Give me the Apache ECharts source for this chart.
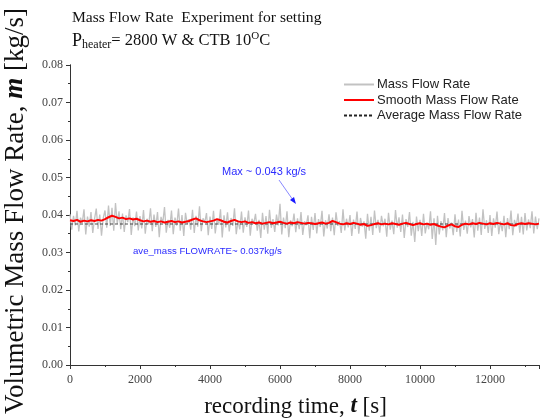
<!DOCTYPE html>
<html>
<head>
<meta charset="utf-8">
<script src="https://cdn.jsdelivr.net/npm/echarts@6/dist/echarts.min.js"></script>
<style>html,body{margin:0;padding:0;background:#fff}#c{width:540px;height:420px}</style>
</head>
<body>
<div id="c"></div>
<script>
// raw mass flow rate [kg/s], sampled every 50 s from t = 0
var rawStep = 50;
var rawValues = [
0.0402,0.0361,0.0398,0.0372,0.0411,0.0356,0.0393,0.0379,0.0415,0.0348,
0.0396,0.0369,0.0408,0.0352,0.0389,0.0417,0.0363,0.0401,0.0345,0.0392,
0.0412,0.0366,0.0425,0.0371,0.0419,0.0358,0.0432,0.0377,0.0410,0.0362,
0.0404,0.0355,0.0399,0.0381,0.0416,0.0347,0.0394,0.0370,0.0409,0.0359,
0.0397,0.0364,0.0413,0.0350,0.0390,0.0375,0.0418,0.0357,0.0401,0.0368,
0.0408,0.0341,0.0395,0.0379,0.0421,0.0353,0.0387,0.0366,0.0412,0.0349,
0.0393,0.0372,0.0417,0.0358,0.0400,0.0344,0.0406,0.0376,0.0389,0.0361,
0.0414,0.0352,0.0398,0.0369,0.0423,0.0357,0.0391,0.0380,0.0405,0.0346,
0.0396,0.0363,0.0411,0.0351,0.0388,0.0374,0.0415,0.0340,0.0399,0.0367,
0.0407,0.0356,0.0392,0.0371,0.0418,0.0349,0.0385,0.0362,0.0409,0.0353,
0.0394,0.0368,0.0412,0.0345,0.0390,0.0377,0.0403,0.0358,0.0387,0.0339,
0.0406,0.0361,0.0397,0.0350,0.0414,0.0366,0.0389,0.0355,0.0401,0.0372,
0.0430,0.0348,0.0393,0.0365,0.0410,0.0341,0.0386,0.0370,0.0404,0.0354,
0.0391,0.0362,0.0408,0.0347,0.0383,0.0373,0.0399,0.0338,0.0395,0.0360,
0.0405,0.0351,0.0389,0.0368,0.0411,0.0343,0.0386,0.0364,0.0402,0.0357,
0.0393,0.0346,0.0407,0.0371,0.0384,0.0352,0.0415,0.0359,0.0390,0.0367,
0.0400,0.0344,0.0388,0.0363,0.0409,0.0350,0.0392,0.0369,0.0383,0.0337,
0.0403,0.0358,0.0395,0.0347,0.0412,0.0365,0.0387,0.0353,0.0398,0.0370,
0.0390,0.0342,0.0406,0.0361,0.0385,0.0349,0.0413,0.0366,0.0394,0.0355,
0.0401,0.0339,0.0389,0.0368,0.0408,0.0345,0.0382,0.0328,0.0396,0.0357,
0.0387,0.0344,0.0403,0.0351,0.0379,0.0362,0.0410,0.0336,0.0391,0.0320,
0.0398,0.0348,0.0384,0.0359,0.0405,0.0341,0.0392,0.0364,0.0380,0.0346,
0.0402,0.0355,0.0388,0.0343,0.0411,0.0360,0.0385,0.0350,0.0397,0.0367,
0.0389,0.0340,0.0406,0.0358,0.0393,0.0347,0.0415,0.0363,0.0386,0.0352,
0.0400,0.0344,0.0391,0.0366,0.0409,0.0349,0.0383,0.0357,0.0398,0.0341,
0.0392,0.0362,0.0412,0.0346,0.0387,0.0369,0.0404,0.0353,0.0395,0.0348,
0.0405,0.0359,0.0388,0.0365,0.0410,0.0351,0.0396,0.0362,0.0391
];
// smoothed mass flow rate [kg/s], every 100 s from t = 0
var smoothStep = 100;
var smoothValues = [
0.0386,0.0384,0.0387,0.0382,0.0385,0.0383,0.0386,0.0384,0.0387,0.0385,
0.0389,0.0394,0.0398,0.0395,0.0391,0.0393,0.0389,0.0391,0.0388,0.0390,
0.0386,0.0383,0.0385,0.0382,0.0384,0.0381,0.0383,0.0380,0.0382,0.0384,
0.0381,0.0383,0.0380,0.0382,0.0384,0.0388,0.0391,0.0386,0.0383,0.0381,
0.0383,0.0385,0.0389,0.0386,0.0382,0.0380,0.0384,0.0387,0.0383,0.0381,
0.0383,0.0379,0.0381,0.0378,0.0380,0.0377,0.0379,0.0381,0.0378,0.0380,
0.0382,0.0379,0.0377,0.0380,0.0378,0.0381,0.0379,0.0377,0.0379,0.0378,
0.0376,0.0378,0.0380,0.0377,0.0379,0.0384,0.0381,0.0377,0.0375,0.0378,
0.0376,0.0379,0.0377,0.0374,0.0376,0.0371,0.0373,0.0376,0.0378,0.0375,
0.0377,0.0375,0.0378,0.0376,0.0374,0.0377,0.0379,0.0376,0.0373,0.0376,
0.0378,0.0375,0.0377,0.0374,0.0376,0.0372,0.0369,0.0367,0.0372,0.0375,
0.0370,0.0368,0.0374,0.0377,0.0375,0.0378,0.0376,0.0379,0.0377,0.0375,
0.0378,0.0376,0.0379,0.0377,0.0375,0.0378,0.0373,0.0372,0.0376,0.0378,
0.0376,0.0378,0.0377,0.0375,0.0377
];
var avgTimes = [0, 13400];
var avgValues = [0.0376, 0.0376];
var seriesNames = ['Mass Flow Rate', 'Smooth Mass Flow Rate', 'Average Mass Flow Rate'];

var rawData = rawValues.map(function (v, i) { return [i * rawStep, v]; });
var smoothData = smoothValues.map(function (v, i) { return [i * smoothStep, v]; });
var avgData = avgTimes.map(function (t, i) { return [t, avgValues[i]]; });

var serif = '"Liberation Serif","DejaVu Serif",serif';
var sans = '"Liberation Sans",Arial,sans-serif';
var axisCol = '#333';

var chart = echarts.init(document.getElementById('c'));
chart.setOption({
  animation: false,
  backgroundColor: '#fff',
  grid: { left: 70, right: 1, top: 65, bottom: 55, outerBoundsMode: 'none', containLabel: false },
  legend: {
    orient: 'vertical', right: 13, top: 73,
    itemWidth: 30, itemHeight: 12, itemGap: 2.5,
    itemStyle: { opacity: 0 },
    textStyle: { fontFamily: sans, fontSize: 13, color: '#222', padding: [0, 0, 0, -2] },
    data: seriesNames
  },
  xAxis: [{
    type: 'value', min: 0, max: 13400, interval: 2000,
    name: 'recording time, {i|t} [s]', nameLocation: 'middle', nameGap: 30,
    nameTextStyle: { fontFamily: serif, fontSize: 23, color: '#111', padding: [0, 18, 0, 0],
      rich: { i: { fontFamily: serif, fontSize: 23, fontStyle: 'italic', fontWeight: 'bold', color: '#111' } } },
    axisLine: { lineStyle: { color: axisCol, width: 1 } },
    axisTick: { inside: false, length: 4, lineStyle: { color: axisCol } },
    minorTick: { show: true, splitNumber: 2, length: 2, lineStyle: { color: axisCol } },
    axisLabel: { fontFamily: serif, fontSize: 12, color: '#444', margin: 9, showMaxLabel: false,
      formatter: function (v) { return String(v); } },
    splitLine: { show: false }
  }, {
    type: 'value', position: 'top', min: 0, max: 13400, interval: 2000,
    axisLine: { lineStyle: { color: axisCol, width: 1 } },
    axisTick: { inside: true, length: 4, lineStyle: { color: axisCol } },
    minorTick: { show: true, splitNumber: 2, length: 2, lineStyle: { color: axisCol } },
    axisLabel: { show: false }, splitLine: { show: false }
  }],
  yAxis: [{
    type: 'value', min: 0, max: 0.08, interval: 0.01,
    name: 'Volumetric Mass Flow Rate, {i|m} [kg/s]', nameLocation: 'middle', nameGap: 41,
    nameTextStyle: { fontFamily: serif, fontSize: 27, color: '#111', padding: [0, 0, 0, 8],
      rich: { i: { fontFamily: serif, fontSize: 27, fontStyle: 'italic', fontWeight: 'bold', color: '#111' } } },
    axisLine: { show: true, lineStyle: { color: axisCol, width: 1 } },
    axisTick: { show: true, inside: false, length: 4, lineStyle: { color: axisCol } },
    minorTick: { show: true, splitNumber: 2, length: 2, lineStyle: { color: axisCol } },
    axisLabel: { fontFamily: serif, fontSize: 12, color: '#444', margin: 7,
      formatter: function (v) { return v.toFixed(2); } },
    splitLine: { show: false }
  }, {
    type: 'value', position: 'right', min: 0, max: 0.08, interval: 0.01,
    axisLine: { show: true, lineStyle: { color: axisCol, width: 1 } },
    axisTick: { show: true, inside: true, length: 4, lineStyle: { color: axisCol } },
    minorTick: { show: true, splitNumber: 2, length: 2, lineStyle: { color: axisCol } },
    axisLabel: { show: false }, splitLine: { show: false }
  }],
  series: [{
    name: seriesNames[0], type: 'line', data: rawData, showSymbol: false, symbol: 'none',
    lineStyle: { color: '#c2c2c2', width: 1.3 }, itemStyle: { color: '#c2c2c2' }, z: 1
  }, {
    name: seriesNames[1], type: 'line', data: smoothData, showSymbol: false, symbol: 'none',
    lineStyle: { color: '#ff0000', width: 2 }, itemStyle: { color: '#ff0000' }, z: 3
  }, {
    name: seriesNames[2], type: 'line', data: avgData, showSymbol: false, symbol: 'none',
    lineStyle: { color: '#222', width: 0.8, type: [3, 2] }, itemStyle: { color: '#222' }, z: 2
  }],
  graphic: [
    { type: 'text', left: 72, top: 10, style: { text: 'Mass Flow Rate  Experiment for setting',
      font: '15.6px ' + serif, fill: '#111' } },
    { type: 'text', left: 72, top: 31, style: {
      text: '{p|P}{s|heater}{n|= 2800 W & CTB 10}{u|O}{n|C}',
      rich: {
        p: { font: '18px ' + serif, fill: '#111' },
        s: { font: '12px ' + serif, fill: '#111', padding: [7, 0, 0, 0] },
        n: { font: '16.5px ' + serif, fill: '#111' },
        u: { font: '11px ' + serif, fill: '#111', padding: [0, 0, 9, 0] }
      } } },
    { type: 'text', left: 222, top: 166, style: { text: 'Max ~ 0.043 kg/s',
      font: '11px ' + sans, fill: '#2b2bff' } },
    { type: 'text', left: 133, top: 246, style: { text: 'ave_mass FLOWRATE~ 0.037kg/s',
      font: '9.6px ' + sans, fill: '#2b2bff' } },
    { type: 'line', shape: { x1: 279, y1: 180, x2: 293, y2: 200 },
      style: { stroke: '#6a6aff', lineWidth: 0.8 } },
    { type: 'polygon', shape: { points: [[296, 204], [290, 200], [294, 197]] },
      style: { fill: '#1a1aff' } }
  ]
});
</script>
</body>
</html>
